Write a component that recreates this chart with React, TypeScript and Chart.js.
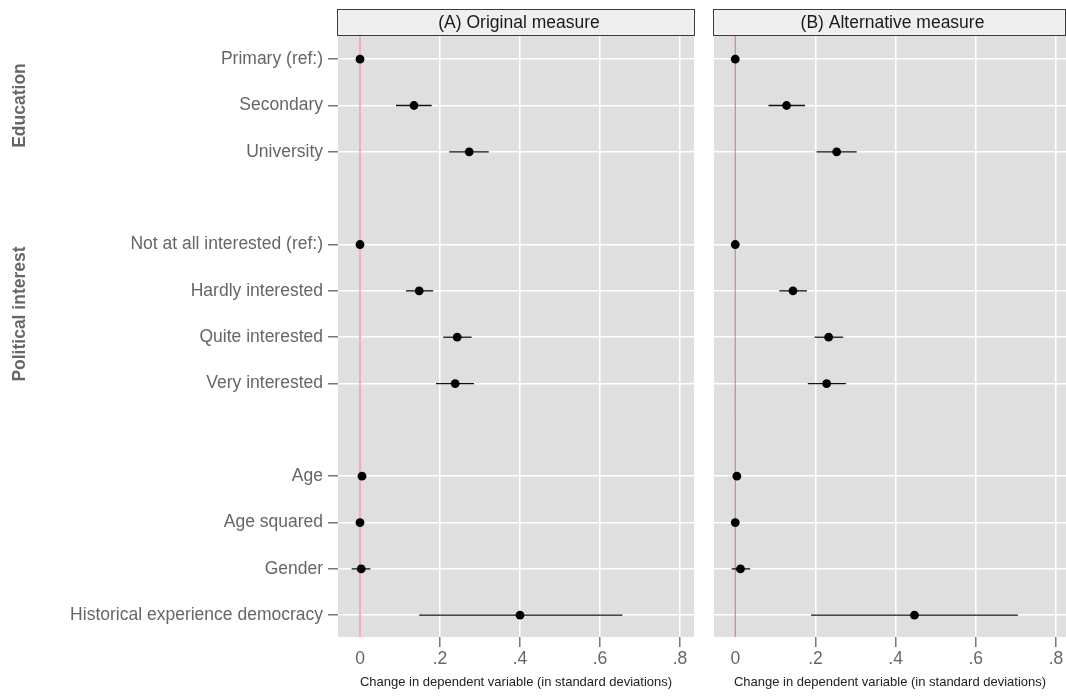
import React, { useEffect, useRef } from "react";
import { Chart, registerables } from "chart.js";

Chart.register(...registerables);

const FONT = "'Liberation Sans', Arial, Helvetica, sans-serif";

const rowLabels = [
  "Primary (ref:)",
  "Secondary",
  "University",
  "Not at all interested (ref:)",
  "Hardly interested",
  "Quite interested",
  "Very interested",
  "Age",
  "Age squared",
  "Gender",
  "Historical experience democracy",
];
const rowPositions = [0, 1, 2, 4, 5, 6, 7, 9, 10, 11, 12];

const groupNames = ["Education", "Political interest"];
const groupStart = [0, 4];
const groupEnd = [2, 7];

const xTicks = [0, 0.2, 0.4, 0.6, 0.8];
const xTickLabels = ["0", ".2", ".4", ".6", ".8"];

const originalEst = [0, 0.135, 0.273, 0, 0.148, 0.243, 0.238, 0.005, 0, 0.003, 0.4];
const originalLo = [null, 0.09, 0.223, null, 0.115, 0.208, 0.19, null, null, -0.021, 0.148];
const originalHi = [null, 0.179, 0.322, null, 0.183, 0.279, 0.285, null, null, 0.026, 0.656];

const alternativeEst = [0, 0.128, 0.253, 0, 0.144, 0.233, 0.228, 0.004, 0, 0.013, 0.447];
const alternativeLo = [null, 0.083, 0.203, null, 0.11, 0.198, 0.181, null, null, -0.009, 0.189];
const alternativeHi = [null, 0.174, 0.303, null, 0.179, 0.269, 0.276, null, null, 0.037, 0.705];

const xTitle = "Change in dependent variable (in standard deviations)";

type PanelCfg = {
  title: string;
  est: number[];
  lo: (number | null)[];
  hi: (number | null)[];
  showLabels: boolean;
  yWidth: number;
  padRight: number;
  xMin: number;
  xMax: number;
  zeroColor: string;
  zeroWidth: number;
  width: number;
};

function makePlugin(cfg: PanelCfg) {
  return {
    id: "panelDecor",
    beforeDraw(chart: any) {
      const { ctx, chartArea } = chart;
      ctx.save();
      ctx.fillStyle = "#dfdfdf";
      ctx.fillRect(chartArea.left, chartArea.top, chartArea.right - chartArea.left, chartArea.bottom - chartArea.top);
      ctx.restore();
    },
    beforeDatasetsDraw(chart: any) {
      const { ctx, chartArea, scales } = chart;
      const xs = scales.x;
      const ys = scales.y;
      ctx.save();
      const x0 = xs.getPixelForValue(0);
      ctx.strokeStyle = cfg.zeroColor;
      ctx.lineWidth = cfg.zeroWidth;
      ctx.beginPath();
      ctx.moveTo(x0, chartArea.top);
      ctx.lineTo(x0, chartArea.bottom);
      ctx.stroke();
      ctx.strokeStyle = "#111";
      ctx.lineWidth = 1.3;
      rowPositions.forEach((p, i) => {
        const lo = cfg.lo[i];
        const hi = cfg.hi[i];
        if (lo == null || hi == null) return;
        const y = ys.getPixelForValue(p);
        ctx.beginPath();
        ctx.moveTo(xs.getPixelForValue(lo), y);
        ctx.lineTo(xs.getPixelForValue(hi), y);
        ctx.stroke();
      });
      ctx.restore();
    },
    afterDraw(chart: any) {
      const { ctx, chartArea, scales } = chart;
      ctx.save();
      const left = chartArea.left - 0.5;
      const right = Math.min(chartArea.right + 0.5, chart.width - 0.5);
      ctx.fillStyle = "#efefef";
      ctx.fillRect(left, 9.5, right - left, 26);
      ctx.strokeStyle = "#3a3a3a";
      ctx.lineWidth = 1;
      ctx.strokeRect(left, 9.5, right - left, 26);
      ctx.fillStyle = "#1a1a1a";
      ctx.font = `17.5px ${FONT}`;
      ctx.textAlign = "center";
      ctx.textBaseline = "middle";
      ctx.fillText(cfg.title, (left + right) / 2 + 3, 23);
      if (cfg.showLabels) {
        const ys = scales.y;
        ctx.fillStyle = "#666";
        ctx.font = `bold 17.5px ${FONT}`;
        groupNames.forEach((g, i) => {
          const yc = (ys.getPixelForValue(groupStart[i]) + ys.getPixelForValue(groupEnd[i])) / 2;
          ctx.save();
          ctx.translate(20, yc);
          ctx.rotate(-Math.PI / 2);
          ctx.fillText(g, 0, 0);
          ctx.restore();
        });
      }
      ctx.restore();
    },
  };
}

function Panel({ cfg, left }: { cfg: PanelCfg; left: number }) {
  const ref = useRef<HTMLCanvasElement | null>(null);
  useEffect(() => {
    if (!ref.current) return;
    const chart = new Chart(ref.current, {
      type: "scatter",
      data: {
        datasets: [
          {
            data: rowPositions.map((p, i) => ({ x: cfg.est[i], y: p })),
            backgroundColor: "#000",
            borderColor: "#000",
            pointRadius: 4.4,
            pointHoverRadius: 4.4,
            borderWidth: 0,
          },
        ],
      },
      options: {
        responsive: false,
        animation: false,
        events: [],
        layout: { autoPadding: false, padding: { top: 36, right: cfg.padRight, left: 0, bottom: 0 } },
        plugins: { legend: { display: false }, tooltip: { enabled: false } },
        scales: {
          x: {
            type: "linear",
            min: cfg.xMin,
            max: cfg.xMax,
            afterBuildTicks: (scale: any) => {
              scale.ticks = xTicks.map((v) => ({ value: v }));
            },
            afterFit: (scale: any) => {
              scale.height = 59;
              scale.paddingLeft = 0;
              scale.paddingRight = 0;
            },
            border: { display: false },
            grid: {
              color: (c: any) => (c.tick && c.tick.value === 0 ? "rgba(0,0,0,0)" : "#ffffff"),
              tickColor: (c: any) => (c.tick && c.tick.value === 0 ? "rgba(0,0,0,0)" : "#777"),
              lineWidth: 1.5,
              tickLength: 10,
              drawTicks: true,
            },
            ticks: {
              padding: 2,
              color: "#666",
              font: { family: FONT, size: 17.5 },
              maxRotation: 0,
              autoSkip: false,
              callback: (v: any) => {
                const k = xTicks.findIndex((t) => Math.abs(t - Number(v)) < 1e-9);
                return k >= 0 ? xTickLabels[k] : "";
              },
            },
            title: {
              display: true,
              text: xTitle,
              color: "#222",
              font: { family: FONT, size: 13 },
              padding: { top: 0, bottom: 6 },
            },
          },
          y: {
            type: "linear",
            reverse: true,
            min: -0.5,
            max: 12.47,
            afterBuildTicks: (scale: any) => {
              scale.ticks = rowPositions.map((v) => ({ value: v }));
            },
            afterFit: (scale: any) => {
              scale.width = cfg.yWidth;
            },
            border: { display: false },
            grid: {
              color: "#ffffff",
              tickColor: "#777",
              lineWidth: 1.5,
              tickLength: 10,
              drawTicks: cfg.showLabels,
            },
            ticks: {
              display: cfg.showLabels,
              padding: 5,
              color: "#666",
              font: { family: FONT, size: 17.5 },
              autoSkip: false,
              callback: (v: any) => {
                const k = rowPositions.indexOf(Number(v));
                return k >= 0 ? rowLabels[k] : "";
              },
            },
          },
        },
      },
      plugins: [makePlugin(cfg)],
    } as any);
    return () => chart.destroy();
  }, [cfg]);
  return (
    <canvas
      ref={ref}
      width={cfg.width}
      height={696}
      style={{ position: "absolute", left, top: 0, width: cfg.width, height: 696 }}
    />
  );
}

const leftCfg: PanelCfg = {
  title: "(A) Original measure",
  est: originalEst,
  lo: originalLo,
  hi: originalHi,
  showLabels: true,
  yWidth: 338,
  padRight: 10,
  xMin: -0.055,
  xMax: 0.835,
  zeroColor: "#f2a9cb",
  zeroWidth: 2,
  width: 704,
};

const rightCfg: PanelCfg = {
  title: "(B) Alternative measure",
  est: alternativeEst,
  lo: alternativeLo,
  hi: alternativeHi,
  showLabels: false,
  yWidth: 10,
  padRight: 0,
  xMin: -0.053,
  xMax: 0.825,
  zeroColor: "#cc6f9c",
  zeroWidth: 1,
  width: 362,
};

export default function App() {
  return (
    <div style={{ position: "fixed", left: 0, top: 0, width: 1066, height: 696, background: "#fff", overflow: "hidden" }}>
      <Panel cfg={leftCfg} left={0} />
      <Panel cfg={rightCfg} left={704} />
    </div>
  );
}
